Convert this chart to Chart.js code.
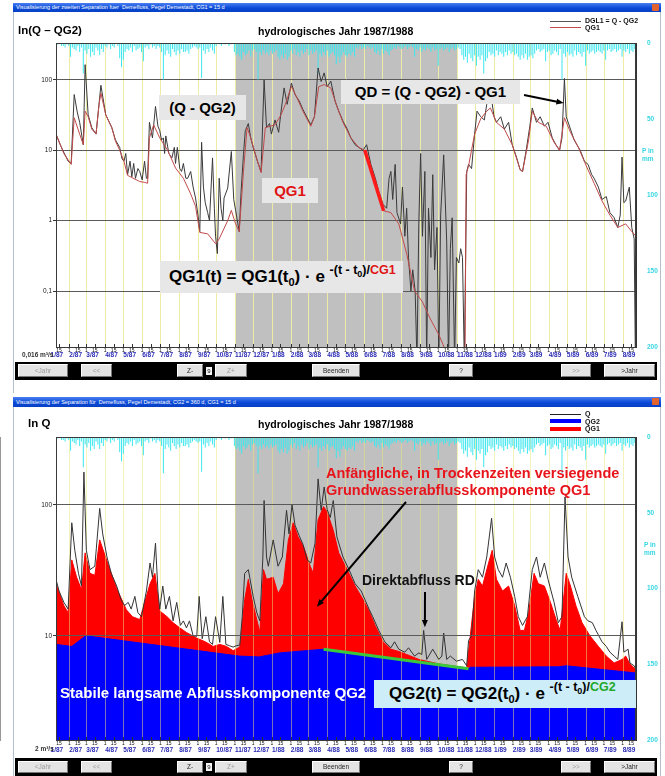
<!DOCTYPE html>
<html lang="de">
<head>
<meta charset="utf-8">
<title>Abflussseparation Demefluss, Pegel Demestadt</title>
<script src="https://cdn.jsdelivr.net/npm/chart.js@4/dist/chart.umd.min.js"></script>
<style>
  html, body { margin: 0; padding: 0; }
  body { width: 665px; height: 776px; overflow: hidden; position: relative; background: #fff;
         font-family: Arial, "Liberation Sans", Helvetica, sans-serif; }
  .win { position: absolute; left: 13px; width: 646px; border-left: 1px solid #b6bece; border-right: 1px solid #b6bece; background: #fff; }
  .tbar { position: absolute; left: 13px; width: 648px; height: 9px; box-sizing: border-box; padding-left: 3px;
          background: linear-gradient(#4a7ff2, #0a4ad8 55%, #0740c4); color: #fff; font-size: 5.5px; line-height: 9px; white-space: nowrap; overflow: hidden; }
  .close { position: absolute; right: 2px; top: 1px; width: 7px; height: 7px; background: #e2632e; border-radius: 1px; }
  canvas { position: absolute; left: 0; }
  .bar { position: absolute; left: 15px; width: 642px; background: #000; }
  .btn { position: absolute; background: #e4e4e4; border: 1px solid; border-color: #fff #777 #777 #fff; box-sizing: border-box;
         font-size: 6.5px; text-align: center; color: #222; }
  .btn.off { color: #9c9c9c; }
  .num { position: absolute; background: #f4f4f4; color: #111; font-size: 6px; text-align: center; }
  .lbl { position: absolute; white-space: nowrap; font-weight: bold; }
  .box { position: absolute; background: #e7e7e7; font-weight: bold; white-space: nowrap; box-sizing: border-box; }
  .sb { font-size: 11px; position: relative; top: 4px; }
  .sp { font-size: 12.5px; position: relative; top: -8px; }
  .sb2 { font-size: 9px; position: relative; top: 3px; }
  .leg { position: absolute; left: 550px; width: 31px; }
  .legt { position: absolute; left: 585px; font-size: 7px; font-weight: bold; white-space: nowrap; color: #111; }
  .pax { position: absolute; color: #36d6e2; font-size: 6.5px; font-weight: bold; line-height: 8px; }
</style>
</head>
<body>

<div class="win" style="top:3px;height:390px"></div>
<div class="win" style="top:397px;height:379px"></div>

<canvas id="cTop" width="665" height="395" style="top:0"></canvas>
<canvas id="cBottom" width="665" height="381" style="top:395px"></canvas>

<!-- Fenster 1: Separation Q - QG2 / QG1 -->
<div class="tbar" style="top:3px">Visualisierung der zweiten Separation fuer&nbsp; Demefluss, Pegel Demestadt, CG1 = 15 d<div class="close"></div></div>
<div class="lbl" style="left:18px;top:24px;font-size:11.5px">ln(Q – QG2)</div>
<div class="lbl" style="left:258px;top:25px;font-size:10.5px">hydrologisches Jahr 1987/1988</div>
<div class="leg" style="top:21px;height:1px;background:#555"></div>
<div class="legt" style="top:17px">DGL1 = Q - QG2</div>
<div class="leg" style="top:27px;height:1px;background:#c24a4a"></div>
<div class="legt" style="top:23.5px">QG1</div>
<div class="pax" style="left:642px;top:147px">P in<br>mm</div>
<div class="lbl" style="left:22px;top:351px;font-size:6.5px;color:#333">0,016 m³/s</div>

<div class="box" style="left:159px;top:95px;width:87px;height:25px;font-size:15px;line-height:25px;text-align:center">(Q - QG2)</div>
<div class="box" style="left:341px;top:80px;width:179px;height:24px;font-size:15px;line-height:24px;text-align:center">QD = (Q - QG2) - QG1</div>
<div class="box" style="left:262px;top:178px;width:56px;height:25px;font-size:15px;line-height:25px;text-align:center;color:#e01414">QG1</div>
<div class="box" style="left:160px;top:261px;width:243px;height:32px;font-size:17px;line-height:32px;padding-left:9px">QG1(t) = QG1(t<span class="sb">0</span>) · e <span class="sp">-(t - t<span class="sb2">0</span>)/<span style="color:#e01414">CG1</span></span></div>

<div class="bar" style="top:362px;height:18px"></div>
<div class="btn off" style="left:18px;top:364px;width:50px;height:13px;line-height:11px">&lt;Jahr</div>
<div class="btn off" style="left:81px;top:364px;width:31px;height:13px;line-height:11px">&lt;&lt;</div>
<div class="btn" style="left:177px;top:364px;width:26px;height:13px;line-height:11px">Z-</div>
<div class="num" style="left:206px;top:367px;width:6px;height:8px;line-height:8px">9</div>
<div class="btn off" style="left:215px;top:364px;width:32px;height:13px;line-height:11px">Z+</div>
<div class="btn" style="left:312px;top:364px;width:48px;height:13px;line-height:11px">Beenden</div>
<div class="btn" style="left:449px;top:364px;width:24px;height:13px;line-height:11px">?</div>
<div class="btn off" style="left:561px;top:364px;width:30px;height:13px;line-height:11px">&gt;&gt;</div>
<div class="btn" style="left:604px;top:364px;width:51px;height:13px;line-height:11px">&gt;Jahr</div>

<!-- Fenster 2: Q mit QG2 und QG1 -->
<div class="tbar" style="top:397px;height:10px;line-height:10px">Visualisierung der Separation für&nbsp; Demefluss, Pegel Demestadt, CG2 = 360 d, CG1 = 15 d<div class="close"></div></div>
<div class="lbl" style="left:28px;top:417px;font-size:11.5px">ln Q</div>
<div class="lbl" style="left:258px;top:418px;font-size:10.5px">hydrologisches Jahr 1987/1988</div>
<div class="leg" style="top:414px;height:1px;background:#222"></div>
<div class="legt" style="top:410px">Q</div>
<div class="leg" style="top:419px;height:4px;background:#0000ff"></div>
<div class="legt" style="top:417.5px">QG2</div>
<div class="leg" style="top:427px;height:4px;background:#ff0000"></div>
<div class="legt" style="top:425px">QG1</div>
<div class="pax" style="left:644px;top:541px">P in<br>mm</div>
<div class="lbl" style="left:35px;top:745px;font-size:6.5px;color:#333">2 m³/s</div>

<div class="lbl" style="left:326px;top:465px;font-size:14.5px;line-height:17px;color:#e8141c">Anfängliche, in Trockenzeiten versiegende<br>Grundwasserabflusskomponente QG1</div>
<div class="lbl" style="left:362px;top:572px;font-size:14px;color:#111">Direktabfluss RD</div>
<div class="lbl" style="left:60px;top:684px;font-size:15px;color:#fff">Stabile langsame Abflusskomponente QG2</div>
<div class="box" style="left:374px;top:680px;width:262px;height:28px;font-size:17px;line-height:28px;padding-left:15px;background:#cdedf8">QG2(t) = QG2(t<span class="sb">0</span>) · e <span class="sp">-(t - t<span class="sb2">0</span>)/<span style="color:#1fa82a">CG2</span></span></div>

<div class="bar" style="top:758px;height:18px"></div>
<div class="btn off" style="left:18px;top:761px;width:50px;height:12px;line-height:10px">&lt;Jahr</div>
<div class="btn off" style="left:81px;top:761px;width:31px;height:12px;line-height:10px">&lt;&lt;</div>
<div class="btn" style="left:177px;top:761px;width:26px;height:12px;line-height:10px">Z-</div>
<div class="num" style="left:206px;top:763px;width:6px;height:8px;line-height:8px">9</div>
<div class="btn off" style="left:215px;top:761px;width:32px;height:12px;line-height:10px">Z+</div>
<div class="btn" style="left:312px;top:761px;width:48px;height:12px;line-height:10px">Beenden</div>
<div class="btn" style="left:449px;top:761px;width:24px;height:12px;line-height:10px">?</div>
<div class="btn off" style="left:561px;top:761px;width:30px;height:12px;line-height:10px">&gt;&gt;</div>
<div class="btn" style="left:604px;top:761px;width:51px;height:12px;line-height:10px">&gt;Jahr</div>

<script>
// Time axis: days counted from 1 Jan 1987
const monthLabels = ['1/87','2/87','3/87','4/87','5/87','6/87','7/87','8/87','9/87','10/87','11/87','12/87',
  '1/88','2/88','3/88','4/88','5/88','6/88','7/88','8/88','9/88','10/88','11/88','12/88',
  '1/89','2/89','3/89','4/89','5/89','6/89','7/89','8/89'];
const hydroYear = ['1987-11-01', '1988-11-01'];   // shaded hydrological year
const axisDays = [9, 965];                       // visible date window

// Precipitation (mm), one value per 3-day step starting at day 9
const precipStartDay = 9;
const precipStepDays = 3;
const precipMm = [
  0,1,0,2,2,3,1,2,9,3, 4,5,2,6,3,20,5,7,4,9, 6,8,3,5,8,4,6,2,3,1, 4,2,3,0,2,10,16,11,6,4,
  5,3,6,2,5,4,3,6,12,3, 2,4,1,3,2,4,2,3,6,24, 8,5,7,9,4,6,8,5,7,4, 6,6,5,7,4,3,2,3,4,3,
  23,5,7,4,6,3,5,7,2,0, 1,2,0,1,0,2,1,0,6,8, 7,9,11,6,8,7,5,9,5,4, 6,24,6,8,5,7,6,8,5,7,
  6,5,9,11,8,10,7,11,9,5, 7,4,8,6,9,5,7,6,4,8, 5,7,6,5,20,7,9,6,8,5, 9,7,6,8,14,9,13,8,6,8,
  9,7,8,6,9,3,4,2,4,3, 4,2,3,4,3,6,7,5,8,4, 7,5,6,8,5,4,3,4,2,3, 4,3,2,4,3,2,3,9,4,5,
  3,6,4,5,3,4,6,3,5,4, 15,4,3,5,4,3,6,4,3,5, 4,3,4,8,11,9,13,7,10,12, 8,15,9,11,8,20,12,10,6,8,
  7,9,5,8,6,7,9,6,8,5, 7,6,8,7,9,11,8,10,7,11, 9,8,10,7,5,4,6,5,4,12, 6,5,8,7,5,6,8,4,24,7,
  9,6,8,7,9,5,8,6,7,9, 6,15,5,7,6,5,7,6,5,6, 7,5,11,5,4,6,5,4,6,5, 4,9,5,6,4,7,5,6,4
];

// Upper panel: Q - QG2 (DGL1) and QG1, [day, m³/s]
const dgl1 = [
  [9,17],[16,12],[22,9.3],[29,7],[34,6.5],[39,62],[44,35],[48,25],[54,12],[57,165],[62,32],[68,21],[75,17],[83,84],
  [91,32],[101,21],[107,14],[114,11],[118,7.5],[121,7],[124,9],[127,4.5],[131,7],[134,4.2],[137,6.5],[140,4],[144,5.5],
  [147,5],[151,3.8],[155,7],[158,4],[160,4],[163,25],[168,15],[173,42],[177,22],[180,19],[183,14],[186,15],[188,9],
  [190,16],[195,9],[200,7.8],[204,11],[206,6.5],[209,11],[213,5.5],[216,5],[219,6.5],[223,4],[226,4],[231,5],[235,3],
  [239,2.1],[243,1.2],[246,0.7],[249,13],[252,3],[255,1.8],[259,1.3],[262,1],[267,7.8],[270,1.5],[272,0.6],[275,0.34],
  [278,4],[281,1.5],[284,1],[286,2.1],[292,2.9],[298,9.6],[302,2],[305,1.4],[311,0.7],[314,2.5],[318,8.7],[321,19],
  [326,24],[330,15],[334,11],[341,7],[347,5],[352,100],[356,21],[361,24],[364,17],[370,27],[376,18],[380,36],[385,77],
  [390,45],[397,90],[403,62],[410,50],[416,38],[423,29],[429,23],[435,30],[441,148],[446,95],[451,126],[456,80],[462,96],
  [469,50],[475,36],[482,26],[489,20],[495,15],[502,12],[508,11],[515,10],[521,12],[528,6.3],[535,4.1],[541,2.6],
  [548,1.7],[554,1.5],[558,4],[561,5],[564,2],[568,6.3],[571,1.3],[577,0.9],[580,3],[584,0.6],[587,1.5],[590,0.3],
  [594,0.1],[597,0.2],[601,0.1],[604,0.01],[607,0.9],[610,9],[613,0.6],[617,5],[620,0.01],[623,1.5],[627,0.3],[630,4.5],
  [633,0.2],[637,0.8],[640,0.01],[643,1.2],[648,8.6],[653,0.5],[656,0.01],[659,0.4],[662,1.1],[666,0.01],[669,0.3],
  [673,0.25],[676,0.4],[679,0.3],[682,0.01],[686,5],[689,6.3],[694,5.5],[699,17],[703,36],[709,30],[715,27],[719,45],
  [725,70],[731,30],[735,25],[742,30],[748,20],[755,25],[761,12],[768,8],[774,5.3],[778,5],[784,10],[790,22],[794,40],
  [801,25],[807,30],[814,22],[820,25],[827,15],[833,12],[839,10],[843,15],[847,105],[850,30],[857,20],[863,14],[873,10],
  [880,7],[886,6.3],[892,4.5],[896,4],[903,3],[909,2],[916,2.2],[922,1.3],[929,1.1],[935,0.8],[939,1.2],[942,8],
  [945,1.8],[948,1.9],[954,3],[958,0.8],[962,0.55],[964,0.01]
];
const qg1Top = [
  [9,17],[22,9],[34,6.3],[39,29],[48,17],[54,12],[57,36],[62,30],[68,20],[75,17],[80,45],[83,65],[91,32],[101,21],
  [107,13.5],[114,10],[121,7],[127,4.4],[134,4.1],[147,3.6],[155,3.5],[160,3.4],[163,15],[170,23],[180,15],[193,10],
  [206,5.6],[219,4],[231,2.4],[239,1.6],[246,0.68],[259,0.65],[272,0.47],[278,0.55],[292,1],[298,1.4],[305,0.9],
  [311,0.7],[318,5],[324,21],[330,15],[341,7],[347,4.8],[354,21],[370,23],[380,32],[387,45],[397,81],[406,56],[416,36],
  [429,22],[435,30],[442,80],[451,86],[462,77],[472,42],[482,25],[495,15],[508,11],[518,10],[528,5.5],[541,2.2],
  [549,1.38],[561,1.3],[574,0.9],[587,0.34],[600,0.1],[613,0.07],[626,0.04],[640,0.024],[650,0.015],[660,0.009],
  [675,0.005],[683,0.005],[685,4.5],[689,6],[699,17],[709,28],[719,36],[725,40],[735,25],[748,20],[761,12],[774,5.3],
  [778,5],[788,14],[794,36],[804,25],[817,22],[830,13],[839,10],[847,29],[857,18],[870,11],[883,6],[896,3.4],[909,1.9],
  [922,1.2],[935,0.8],[948,0.9],[958,0.7],[965,0.6]
];
const qg1Recession = [[518,10],[549,1.38]];

// Lower panel: Q, QG2 and upper edge of QG1 (QG2 + QG1), [day, m³/s]
const qTotal = [
  [9,27],[14,22],[22,18],[29,16],[35,73],[40,45],[46,30],[51,24],[55,178],[59,45],[65,32],[73,34],[81,94],[86,60],
  [93,40],[100,30],[109,24],[116,19],[122,17],[128,18],[133,16],[139,20],[144,15],[150,14],[158,22],[164,36],[168,28],
  [173,51],[177,22],[180,16],[185,24],[190,16],[196,20],[202,13],[208,18],[214,12],[219,13],[224,11.5],[229,13],
  [235,10],[241,9.9],[245,20],[250,9.5],[256,14],[262,9],[267,8.6],[272,14],[279,8.9],[284,20],[289,8.6],[295,8.4],
  [301,8.2],[306,8.4],[312,8.5],[316,14],[320,30],[326,32],[334,20],[340,15],[345,13],[350,40],[352,108],[356,40],
  [359,34],[367,54],[375,34],[382,40],[389,91],[393,60],[398,100],[403,70],[410,58],[416,50],[423,38],[429,36],[436,51],
  [441,158],[446,91],[451,137],[456,92],[461,80],[466,108],[472,57],[482,40],[492,32],[502,25],[512,22],[518,19],
  [525,16],[531,14],[541,11],[551,9],[561,8.1],[567,9],[574,7.9],[584,7.5],[590,8.1],[600,7],[607,7.4],[612,7.2],
  [615,11],[620,6.6],[630,7.9],[640,6.6],[645,7],[648,10.5],[653,6.6],[659,7],[669,6.4],[679,6.6],[686,5.9],[689,9.2],
  [694,10],[699,22],[705,32],[712,28],[719,40],[727,79],[732,40],[738,32],[745,28],[751,36],[758,28],[765,20],[771,14],
  [778,12],[786,14],[794,32],[801,40],[807,28],[814,36],[820,27],[830,18],[837,12.6],[843,14],[848,115],[853,40],
  [859,28],[869,20],[880,14],[886,13],[893,12.6],[899,11],[909,9],[916,8.3],[922,7.5],[929,7],[935,6.6],[942,12.8],
  [945,7.5],[952,7.9],[955,6.2],[962,5.9],[965,5.5]
];
const qg2 = [
  [9,8.6],[35,8.3],[58,10],[311,7.0],[344,6.9],[377,7.4],[450,7.9],[689,5.6],[692,5.75],[837,5.8],[850,5.9],[965,5.2]
];
const qg2PlusQg1 = [
  [9,25],[22,17],[29,15],[35,38],[43,28],[51,22.5],[57,43],[65,30],[73,29],[81,54],[95,35],[109,23],[125,15.8],
  [135,14],[147,13.3],[164,25],[172,30],[180,15.5],[192,14],[202,12.6],[213,11.5],[224,10.6],[241,9.6],[255,9],
  [268,8.3],[279,8.6],[290,8.3],[301,7.7],[312,8.2],[320,18.9],[326,27],[332,18.9],[345,10.6],[351,32],[356,27],
  [367,28],[375,21],[384,25],[392,54],[400,73],[408,57],[417,48],[428,34],[433,30],[441,77],[450,97],[456,88],[466,64],
  [475,43],[489,32],[502,24],[515,19],[525,15.5],[535,12],[548,9],[561,7.9],[574,7.6],[587,7.2],[607,6.6],[640,6.1],
  [673,5.8],[686,5.7],[691,9.2],[699,20],[705,27],[712,24],[722,36],[728,45],[735,27],[745,22],[755,24],[765,17],
  [774,11],[781,11],[788,15],[797,30],[804,25],[814,24],[824,18],[834,13],[840,11],[850,30],[857,24],[866,17],
  [876,12.6],[889,10],[903,8.3],[916,7],[929,6.2],[942,6.6],[948,7],[955,6.1],[965,5.5]
];
const qg2Recession = [[450,7.9],[689,5.6]];

// ---------------------------------------------------------------------------
const t0 = Date.UTC(1987, 0, 1);
const dayOfDate = (s) => Math.round((Date.parse(s + 'T00:00:00Z') - t0) / 864e5);
const monthStarts = monthLabels.map((s) => {
  const [m, yy] = s.split('/').map(Number);
  return Math.round((Date.UTC(1900 + yy, m - 1, 1) - t0) / 864e5);
});
const hydroDays = hydroYear.map(dayOfDate);
const tickDays = [];
monthStarts.forEach((d) => { tickDays.push({ v: d, t: '1' }, { v: d + 14, t: '15' }); });
const xTicks = tickDays.filter((k) => k.v >= axisDays[0] && k.v <= axisDays[1]);
const tickText = new Map(xTicks.map((k) => [k.v, k.t]));

const pts = (arr) => arr.map(([x, y]) => ({ x, y }));
const precipPts = precipMm.map((v, i) => ({ x: precipStartDay + i * precipStepDays, y: v }));

Chart.defaults.font.family = 'Arial, "Liberation Sans", Helvetica, sans-serif';

function drawMonthLines(chart, color) {
  const { ctx, chartArea: a, scales: { x } } = chart;
  ctx.save();
  ctx.beginPath(); ctx.rect(a.left, a.top, a.right - a.left, a.bottom - a.top); ctx.clip();
  ctx.strokeStyle = color; ctx.lineWidth = 1;
  monthStarts.forEach((d) => {
    const px = Math.round(x.getPixelForValue(d)) + 0.5;
    ctx.beginPath(); ctx.moveTo(px, a.top); ctx.lineTo(px, a.bottom); ctx.stroke();
  });
  ctx.restore();
}

function arrow(ctx, x0, y0, x1, y1) {
  const ang = Math.atan2(y1 - y0, x1 - x0), h = 8;
  ctx.beginPath(); ctx.moveTo(x0, y0);
  ctx.lineTo(x1 - Math.cos(ang) * h * 0.7, y1 - Math.sin(ang) * h * 0.7); ctx.stroke();
  ctx.beginPath(); ctx.moveTo(x1, y1);
  ctx.lineTo(x1 - h * Math.cos(ang - 0.38), y1 - h * Math.sin(ang - 0.38));
  ctx.lineTo(x1 - h * Math.cos(ang + 0.38), y1 - h * Math.sin(ang + 0.38));
  ctx.closePath(); ctx.fill();
}

// shading, month lines, frame, month captions and pointer arrows
const decor = {
  id: 'decor',
  beforeDraw(chart, args, o) {
    const { ctx, chartArea: a, scales: { x } } = chart;
    const g0 = x.getPixelForValue(hydroDays[0]), g1 = x.getPixelForValue(hydroDays[1]);
    ctx.save();
    ctx.fillStyle = '#c0c0c0';
    ctx.fillRect(g0, a.top, g1 - g0, a.bottom - a.top);
    ctx.restore();
    if (!o.linesOverFill) drawMonthLines(chart, '#eeeba4');
  },
  afterDatasetDraw(chart, args, o) {
    if (o.linesOverFill && args.index === o.fillIndex) drawMonthLines(chart, 'rgba(236,230,120,0.5)');
  },
  afterDraw(chart, args, o) {
    const { ctx, chartArea: a, scales: { x, y } } = chart;
    ctx.save();
    ctx.strokeStyle = '#3a3a3a'; ctx.lineWidth = 1;
    ctx.strokeRect(a.left + 0.5, a.top + 0.5, a.right - a.left - 1, a.bottom - a.top);
    // small tick marks crossing the time axis
    ctx.strokeStyle = '#333';
    xTicks.forEach((k) => {
      const px = Math.round(x.getPixelForValue(k.v)) + 0.5;
      ctx.beginPath(); ctx.moveTo(px, a.bottom - 3); ctx.lineTo(px, a.bottom + 1); ctx.stroke();
    });
    ctx.fillStyle = '#2a2ab4';
    ctx.font = 'bold 6.5px Arial, "Liberation Sans", sans-serif';
    ctx.textAlign = 'left'; ctx.textBaseline = 'alphabetic';
    monthLabels.forEach((lab, i) => {
      ctx.fillText(lab, x.getPixelForValue(monthStarts[i]), a.bottom + o.monthOffset);
    });
    ctx.strokeStyle = '#000'; ctx.fillStyle = '#000'; ctx.lineWidth = 2;
    (o.arrows || []).forEach((ar) => {
      arrow(ctx, ar.from[0], ar.from[1], x.getPixelForValue(ar.to[0]), y.getPixelForValue(ar.to[1]));
    });
    ctx.restore();
  }
};

function scales(cfg) {
  return {
    x: {
      type: 'linear', min: axisDays[0], max: axisDays[1], offset: false,
      afterBuildTicks: (s) => { s.ticks = xTicks.map((k) => ({ value: k.v })); },
      afterFit: (s) => { s.height = cfg.xHeight; },
      grid: { display: false, drawTicks: false },
      border: { display: true, color: '#333' },
      ticks: { autoSkip: false, maxRotation: 0, minRotation: 0, padding: 1, color: '#111',
               font: { size: 5 }, callback: (v) => tickText.get(v) || '' }
    },
    y: {
      type: 'logarithmic', position: 'left', min: cfg.yMin, max: cfg.yMax,
      afterBuildTicks: (s) => { s.ticks = cfg.yTicks.map((v) => ({ value: v })); },
      afterFit: (s) => { s.width = 56; },
      grid: { color: '#5a5a5a', tickLength: 3, tickColor: '#333', z: cfg.gridZ },
      border: { color: '#333' },
      ticks: { padding: 1, color: '#222', font: { size: 6.5 }, callback: (v) => String(v).replace('.', ',') }
    },
    y2: {
      type: 'linear', position: 'right', reverse: true, min: 0, max: 200,
      afterBuildTicks: (s) => { s.ticks = [0, 50, 100, 150, 200].map((v) => ({ value: v })); },
      afterFit: (s) => { s.width = 29; },
      grid: { display: false },
      border: { color: '#333' },
      ticks: { padding: 3, color: '#36d6e2', font: { size: 6.5, weight: 'bold' } }
    }
  };
}

const common = {
  responsive: false, animation: false, events: [],
  elements: { point: { radius: 0 }, line: { tension: 0, fill: false } },
};

const precipSet = () => ({
  type: 'bar', label: 'P', data: precipPts, yAxisID: 'y2', backgroundColor: '#3ee6ee',
  barPercentage: 0.55, categoryPercentage: 1
});

new Chart(document.getElementById('cTop'), {
  type: 'line',
  data: {
    datasets: [
      { label: 'QG1 Rezession', data: pts(qg1Recession), borderColor: '#ff1a1a', borderWidth: 3.5, order: 0 },
      { label: 'QG1', data: pts(qg1Top), borderColor: '#c24a4a', borderWidth: 1, order: 1 },
      { label: 'DGL1 = Q - QG2', data: pts(dgl1), borderColor: '#3a3a3a', borderWidth: 1, order: 2 },
      Object.assign(precipSet(), { order: 3 })
    ]
  },
  options: Object.assign({}, common, {
    layout: { padding: { top: 43, left: 0, right: 0, bottom: 0 } },
    plugins: {
      legend: { display: false }, tooltip: { enabled: false },
      decor: { linesOverFill: false, monthOffset: 10, arrows: [{ from: [524, 95], to: [846, 47] }] }
    },
    scales: scales({ xHeight: 48, yMin: 0.016, yMax: 335, yTicks: [0.1, 1, 10, 100], gridZ: 0 })
  }),
  plugins: [decor]
});

new Chart(document.getElementById('cBottom'), {
  type: 'line',
  data: {
    datasets: [
      { label: 'Q', data: pts(qTotal), borderColor: '#333', borderWidth: 1, order: 0 },
      { label: 'QG2 Rezession', data: pts(qg2Recession), borderColor: '#3cc83c', borderWidth: 3, order: 1 },
      Object.assign(precipSet(), { order: 2 }),
      { label: 'QG2', data: pts(qg2), borderColor: '#0000ff', backgroundColor: '#0000ff', borderWidth: 1, fill: 'start', order: 3 },
      { label: 'QG1', data: pts(qg2PlusQg1), borderColor: '#ff0000', backgroundColor: '#ff0000', borderWidth: 1, fill: 'start', order: 4 }
    ]
  },
  options: Object.assign({}, common, {
    layout: { padding: { top: 42, left: 0, right: 0, bottom: 0 } },
    plugins: {
      legend: { display: false }, tooltip: { enabled: false },
      decor: { linesOverFill: true, fillIndex: 3, monthOffset: 12,
               arrows: [{ from: [406, 107], to: [439, 16.7] }, { from: [425, 197], to: [617, 11.6] }] }
    },
    scales: scales({ xHeight: 36, yMin: 1.6, yMax: 330, yTicks: [10, 100], gridZ: 1 })
  }),
  plugins: [decor]
});
</script>
</body>
</html>
